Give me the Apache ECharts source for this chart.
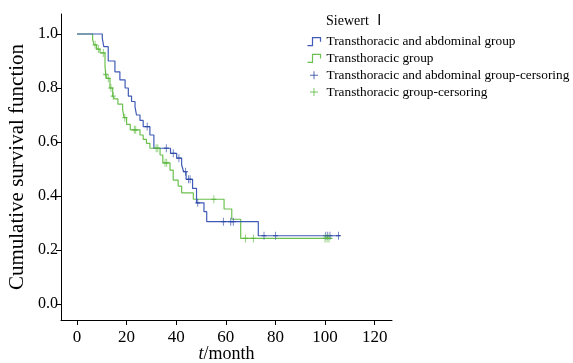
<!DOCTYPE html>
<html>
<head>
<meta charset="utf-8">
<script src="https://cdn.jsdelivr.net/npm/echarts@6/dist/echarts.min.js"></script>
<style>
  html, body { margin: 0; padding: 0; background: #fff; }
  #chart { width: 573px; height: 363px; }
</style>
</head>
<body>
<div id="chart"></div>
<script>
// Kaplan-Meier steps (time in months, cumulative survival)
const abdTimes = [0, 10.2, 10.8, 12.6, 15.3, 17.3, 19.4, 20.7, 22, 23.4, 24, 25.4, 26.7, 29.4, 31, 37.7, 40.2, 42.2, 43, 44, 46.6, 48.2, 51.2, 52.3, 73.1, 106];
const abdSurv  = [1.0, 0.985, 0.953, 0.90, 0.86, 0.83, 0.80, 0.77, 0.75, 0.73, 0.70, 0.68, 0.657, 0.626, 0.577, 0.558, 0.54, 0.515, 0.49, 0.462, 0.428, 0.375, 0.342, 0.305, 0.253, 0.253];
const thoTimes = [0, 6.3, 6.9, 7.9, 9.3, 11.3, 11.6, 12, 13.3, 14.4, 15.2, 16.5, 18.4, 19, 20, 21.5, 25.4, 26.7, 28, 29.4, 33.5, 34.6, 37.5, 38.8, 40.8, 42.2, 46.9, 59.3, 62.4, 66, 103];
const thoSurv  = [1.0, 0.98, 0.96, 0.944, 0.93, 0.88, 0.85, 0.836, 0.80, 0.77, 0.76, 0.74, 0.72, 0.69, 0.665, 0.645, 0.626, 0.61, 0.595, 0.577, 0.552, 0.523, 0.496, 0.459, 0.437, 0.412, 0.388, 0.352, 0.314, 0.243, 0.243];

// censored observations
const abdCensorT = [28.3, 36, 38.8, 41.1, 43.7, 45, 45.6, 48.7, 59, 62, 63, 75.4, 80.1, 100.3, 101.1, 102, 105.4];
const abdCensorS = [0.657, 0.577, 0.558, 0.54, 0.49, 0.462, 0.462, 0.375, 0.305, 0.305, 0.305, 0.253, 0.253, 0.253, 0.253, 0.253, 0.253];
const thoCensorT = [7.3, 8.6, 10.6, 11.6, 12.6, 13.7, 14.6, 19.3, 23.1, 23.7, 31.9, 32.6, 35.5, 36.2, 55.2, 68, 71.1, 100, 100.8, 101.6];
const thoCensorS = [0.96, 0.944, 0.93, 0.85, 0.836, 0.80, 0.77, 0.69, 0.645, 0.645, 0.577, 0.577, 0.523, 0.523, 0.388, 0.243, 0.243, 0.243, 0.243, 0.243];

const xTicks = [0, 20, 40, 60, 80, 100, 120];
const yTicks = [0, 0.2, 0.4, 0.6, 0.8, 1.0];

const names = [
  'Transthoracic and abdominal group',
  'Transthoracic group',
  'Transthoracic and abdominal group-cersoring',
  'Transthoracic group-cersoring'
];
const blue = '#3f5bb7';
const green = '#6cc04e';
const blueMark = '#2b46a3';
const greenMark = '#5ab83c';
const serif = '"Liberation Serif", "Times New Roman", "Noto Sans CJK SC", serif';

const zip = (a, b) => a.map((v, i) => [v, b[i]]);
const plus = 'path://M5,0L5,10M0,5L10,5';
const stepIcon = 'path://M0,9L5,9L5,1L13,1L13,5';

const myChart = echarts.init(document.getElementById('chart'));
myChart.setOption({
  animation: false,
  textStyle: { fontFamily: serif },
  title: {
    text: 'Siewert Ⅰ',
    left: 326,
    top: 14,
    padding: 0,
    textStyle: { fontFamily: serif, fontSize: 14, fontWeight: 'normal', color: '#000' }
  },
  legend: {
    orient: 'vertical',
    left: 305,
    top: 35,
    padding: 0,
    itemGap: 3.5,
    itemWidth: 15,
    itemHeight: 8,
    textStyle: { fontFamily: serif, fontSize: 13.3, color: '#000' },
    data: [
      { name: names[0], icon: stepIcon, itemStyle: { color: 'none', borderColor: blue, borderWidth: 1.2 } },
      { name: names[1], icon: stepIcon, itemStyle: { color: 'none', borderColor: green, borderWidth: 1.2 } },
      { name: names[2], icon: plus, itemStyle: { color: 'none', borderColor: blueMark, borderWidth: 1 } },
      { name: names[3], icon: plus, itemStyle: { color: 'none', borderColor: greenMark, borderWidth: 1 } }
    ]
  },
  grid: { left: 61, top: 14, right: 181, bottom: 43, outerBoundsMode: 'none' },
  xAxis: {
    type: 'value',
    min: -6.44,
    max: 127,
    name: '{i|t}/month',
    nameLocation: 'middle',
    nameGap: 25,
    nameMoveOverlap: false,
    nameTextStyle: {
      fontFamily: serif, fontSize: 18, color: '#000',
      rich: { i: { fontFamily: serif, fontSize: 18, fontStyle: 'italic', color: '#000' } }
    },
    axisLine: { onZero: false, lineStyle: { color: '#000', width: 1 } },
    axisTick: { show: true, length: 5, lineStyle: { color: '#000' }, customValues: xTicks },
    axisLabel: { fontFamily: serif, fontSize: 17, color: '#000', margin: 9, customValues: xTicks },
    splitLine: { show: false }
  },
  yAxis: {
    type: 'value',
    min: -0.059,
    max: 1.074,
    name: 'Cumulative survival function',
    nameLocation: 'middle',
    nameGap: 33,
    nameMoveOverlap: false,
    nameTextStyle: { fontFamily: serif, fontSize: 21, color: '#000' },
    axisLine: { show: true, onZero: false, lineStyle: { color: '#000', width: 1 } },
    axisTick: { show: true, length: 5, lineStyle: { color: '#000' }, customValues: yTicks },
    axisLabel: {
      fontFamily: serif, fontSize: 16, color: '#000', margin: 3,
      customValues: yTicks,
      formatter: v => v.toFixed(1)
    },
    splitLine: { show: false }
  },
  series: [
    {
      name: names[0], type: 'line', step: 'end', showSymbol: false,
      lineStyle: { color: blue, width: 1.2 }, itemStyle: { color: blue },
      data: zip(abdTimes, abdSurv), z: 3
    },
    {
      name: names[1], type: 'line', step: 'end', showSymbol: false,
      lineStyle: { color: green, width: 1.2 }, itemStyle: { color: green },
      data: zip(thoTimes, thoSurv), z: 2
    },
    {
      name: names[2], type: 'scatter', symbol: plus, symbolSize: [5, 8],
      itemStyle: { color: 'none', borderColor: blueMark, borderWidth: 1 },
      data: zip(abdCensorT, abdCensorS), z: 4
    },
    {
      name: names[3], type: 'scatter', symbol: plus, symbolSize: [5, 8],
      itemStyle: { color: 'none', borderColor: greenMark, borderWidth: 1 },
      data: zip(thoCensorT, thoCensorS), z: 4
    }
  ]
});

window.addEventListener('resize', function() {
  myChart.resize();
});
</script>
</body>
</html>
